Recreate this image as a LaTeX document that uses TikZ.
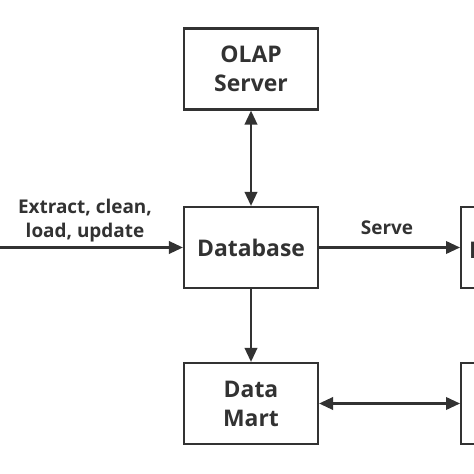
\documentclass[tikz,border=0pt]{standalone}
\usepackage{fontspec}
\setmainfont{Open Sans}
\usetikzlibrary{arrows.meta}
\definecolor{ink}{RGB}{50,50,50}
\tikzset{
  box/.style={draw=ink, line width=2.2bp, minimum width=134bp, minimum height=81bp, inner sep=0pt, align=center, font=\fontsize{23}{29}\selectfont\bfseries, text=ink},
  conn/.style={draw=ink, line width=2.2bp, -{Triangle[length=14bp,width=12.5bp]}},
  biconn/.style={draw=ink, line width=2.2bp, {Triangle[length=14bp,width=12.5bp]}-{Triangle[length=14bp,width=12.5bp]}},
  lbl/.style={align=center, font=\fontsize{19}{24}\selectfont\bfseries, text=ink, inner sep=0pt}
}
\begin{document}
\begin{tikzpicture}[x=1bp,y=-1bp]
\clip (0,0) rectangle (474,474);
\fill[white] (0,0) rectangle (474,474);
\node[box] (olap) at (251,69) {OLAP\\Server};
\node[box] (db) at (251,247.5) {Database};
\node[box] (mart) at (251,403.5) {Data\\Mart};
\node[box, anchor=west] (r1) at (460,247.5) {};
\node[box, anchor=west] (r2) at (460,403.5) {};
\node[font=\fontsize{23}{29}\selectfont\bfseries, text=ink, anchor=west, inner sep=0pt] (r1t) at (469,250) {D};
\coordinate (src) at (-5,247.5);
\draw[biconn] (olap) -- (db);
\draw[conn] (db) -- (mart);
\draw[conn] (src) -- (db);
\draw[conn] (db) -- (r1);
\draw[biconn] (mart) -- (r2);
\node[lbl] (l1) at (85,221) {Extract, clean,\\load, update};
\node[lbl] (l2) at (387,228) {Serve};
\end{tikzpicture}
\end{document}
